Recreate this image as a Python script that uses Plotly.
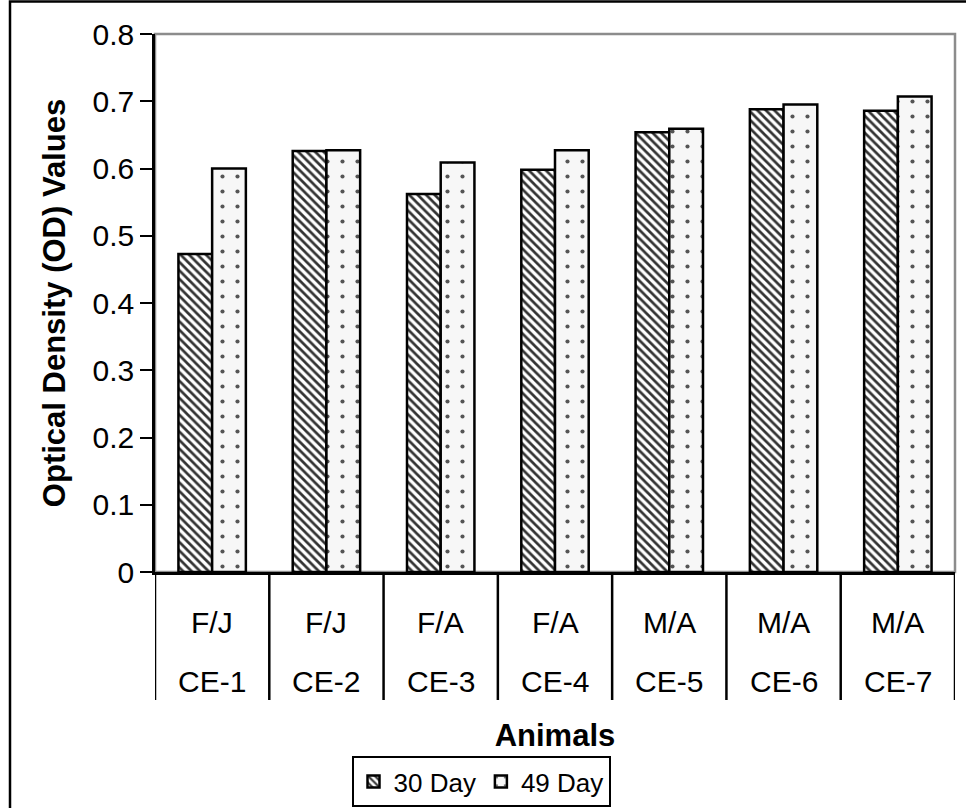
import plotly.graph_objects as go

# Sample groups: sex/age class and animal id
groups = ["F/J", "F/J", "F/A", "F/A", "M/A", "M/A", "M/A"]
animals = ["CE-1", "CE-2", "CE-3", "CE-4", "CE-5", "CE-6", "CE-7"]

# Optical density readings
day30 = [0.473, 0.626, 0.562, 0.598, 0.654, 0.688, 0.686]
day49 = [0.600, 0.627, 0.609, 0.627, 0.659, 0.695, 0.707]

FONT = "Liberation Sans, Arial, sans-serif"
PLOT_H = 538  # plot-area height in px, used for paper offsets below the axis


def below(px):
    """Paper y-coordinate for a point px pixels under the x axis."""
    return -px / PLOT_H


fig = go.Figure()
fig.add_trace(go.Bar(
    name="30 Day",
    x=animals,
    y=day30,
    marker=dict(
        color="white",
        line=dict(color="black", width=2.5),
        pattern=dict(shape="\\", fgcolor="#333333", bgcolor="white",
                     size=6, solidity=0.45, fillmode="replace"),
    ),
))
fig.add_trace(go.Bar(
    name="49 Day",
    x=animals,
    y=day49,
    marker=dict(
        color="#f7f7f7",
        line=dict(color="black", width=2.5),
        pattern=dict(shape=".", fgcolor="#555555", bgcolor="#f7f7f7",
                     size=15, solidity=0.06, fillmode="replace"),
    ),
))

# Two-row category labels under the axis
for a, g in zip(animals, groups):
    fig.add_annotation(x=a, xref="x", y=below(50), yref="paper", text=g,
                       showarrow=False, yanchor="middle",
                       font=dict(family=FONT, size=30))
    fig.add_annotation(x=a, xref="x", y=below(110), yref="paper", text=a,
                       showarrow=False, yanchor="middle",
                       font=dict(family=FONT, size=30))

# Vertical dividers between categories
for i in range(len(animals) + 1):
    fig.add_shape(type="line", xref="x", yref="paper",
                  x0=i - 0.5, x1=i - 0.5, y0=0, y1=below(128),
                  line=dict(color="black", width=2.5))

# Plot-area frame (grey top/right) and outer chart border
fig.add_shape(type="rect", xref="paper", yref="paper",
              x0=0, x1=1, y0=0, y1=1,
              line=dict(color="#8c8c8c", width=2.5), layer="below")
fig.add_shape(type="rect", xref="paper", yref="paper",
              x0=(10 - 155) / 800, x1=1.05, y0=-0.5, y1=(572 - 1.5) / PLOT_H,
              line=dict(color="black", width=2.5), layer="below")

fig.update_layout(
    width=966, height=808,
    margin=dict(l=155, r=11, t=34, b=236, autoexpand=False),
    paper_bgcolor="white", plot_bgcolor="white",
    font=dict(family=FONT, size=30, color="black"),
    barmode="group", bargap=0.41, bargroupgap=0,
    showlegend=True,
    legend=dict(
        orientation="h", x=0.4075, xanchor="center", y=below(184), yanchor="top",
        bordercolor="black", borderwidth=2, bgcolor="white",
        font=dict(family=FONT, size=26),
        itemwidth=30, tracegroupgap=0,
    ),
    xaxis=dict(
        type="category", range=[-0.5, len(animals) - 0.5],
        showline=True, linecolor="black", linewidth=2.5,
        ticks="", showticklabels=False, automargin=False,
        title=dict(text="<b>Animals</b>", font=dict(family=FONT, size=31), standoff=151),
        showgrid=False,
    ),
    yaxis=dict(
        range=[0, 0.8], dtick=0.1, automargin=False,
        showline=True, linecolor="black", linewidth=2.5,
        ticks="outside", ticklen=12, tickwidth=2, tickcolor="black",
        tickfont=dict(family=FONT, size=30),
        showgrid=False, zeroline=False,
        title=dict(text="<b>Optical Density (OD) Values</b>",
                   font=dict(family=FONT, size=31), standoff=18),
    ),
)

fig.write_html("out.html")
